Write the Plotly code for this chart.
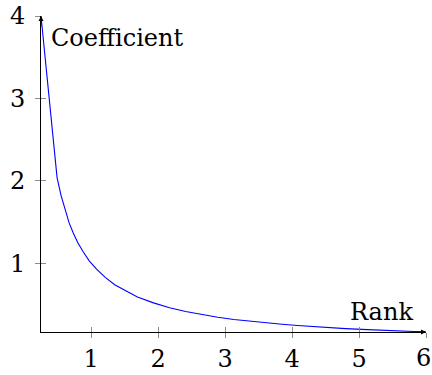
import plotly.graph_objects as go

# Data (coefficient vs rank)
rank = [0.25, 0.49, 0.55, 0.61, 0.67, 0.73, 0.80, 0.88, 0.97, 1.08, 1.21, 1.35,
        1.50, 1.69, 1.93, 2.17, 2.41, 2.65, 2.89, 3.13, 3.37, 3.61, 3.85, 4.08,
        4.32, 4.56, 4.80, 5.04, 5.28, 5.52, 5.76, 6.0]
coefficient = [4.0, 2.04, 1.82, 1.64, 1.49, 1.37, 1.25, 1.14, 1.03, 0.93, 0.83, 0.74,
               0.67, 0.59, 0.52, 0.46, 0.415, 0.377, 0.346, 0.319, 0.297, 0.277, 0.26, 0.245,
               0.231, 0.219, 0.208, 0.198, 0.189, 0.181, 0.174, 0.167]
x_ticks = [1, 2, 3, 4, 5, 6]
x_ticktext = ["1", "2", "3", "4", "5", ""]   # "6" drawn separately so it stays inside the page
y_ticks = [1, 2, 3, 4]
x_range = [0.25, 6.0]
y_range = [1 / 6, 4.0]

FONT = "DejaVu Serif"
FS = 24
TICKC = "#8c8c8c"

fig = go.Figure()
fig.add_trace(go.Scatter(x=rank, y=coefficient, mode="lines",
                         line=dict(color="#0000ff", width=1.1),
                         showlegend=False, hoverinfo="skip"))
# overlay invisible trace for inside ticks
fig.add_trace(go.Scatter(x=[], y=[], xaxis="x2", yaxis="y2", showlegend=False))

axis_common = dict(showgrid=False, zeroline=False, ticklen=5, tickwidth=1,
                   automargin=False, ticklabeloverflow="allow",
                   tickcolor=TICKC, tickfont=dict(family=FONT, size=FS, color="black"))

fig.update_layout(
    width=432, height=375,
    margin=dict(l=41, r=6, t=16, b=43, autoexpand=False),
    plot_bgcolor="white", paper_bgcolor="white",
    xaxis=dict(range=x_range, tickvals=x_ticks, ticktext=x_ticktext, ticks="outside",
               showline=True, linecolor="black", linewidth=1, **axis_common),
    yaxis=dict(range=y_range, tickvals=y_ticks, ticks="outside", ticklabelstandoff=5,
               showline=True, linecolor="black", linewidth=1, **axis_common),
    xaxis2=dict(range=x_range, tickvals=x_ticks, ticks="inside", overlaying="x",
                side="bottom", showticklabels=False, showline=False,
                anchor="y2", **axis_common),
    yaxis2=dict(range=y_range, tickvals=y_ticks, ticks="inside", overlaying="y",
                side="left", showticklabels=False, showline=False,
                anchor="x2", **axis_common),
    annotations=[
        dict(x=6.0, y=1 / 6, xref="x", yref="y", ax=-12, ay=0, text="",
             showarrow=True, arrowhead=2, arrowsize=1, arrowwidth=1, arrowcolor="black"),
        dict(x=0.25, y=4.0, xref="x", yref="y", ax=0, ay=12, text="",
             showarrow=True, arrowhead=2, arrowsize=1, arrowwidth=1, arrowcolor="black"),
        dict(x=0.02, y=0.93, xref="paper", yref="paper", text="Coefficient",
             showarrow=False, xanchor="left", yanchor="middle",
             font=dict(family=FONT, size=FS, color="black")),
        dict(x=0.884, y=0.062, xref="paper", yref="paper", text="Rank",
             showarrow=False, xanchor="center", yanchor="middle",
             font=dict(family=FONT, size=FS, color="black")),
        dict(x=x_ticks[-1], y=0, xref="x", yref="paper", text=str(x_ticks[-1]),
             showarrow=False, xanchor="center", yanchor="top", xshift=-3, yshift=-10,
             font=dict(family=FONT, size=FS, color="black")),
    ],
)

fig.write_html("out.html", config={"displayModeBar": False},
               post_script="document.body.style.margin='0';document.body.style.overflow='hidden';")
